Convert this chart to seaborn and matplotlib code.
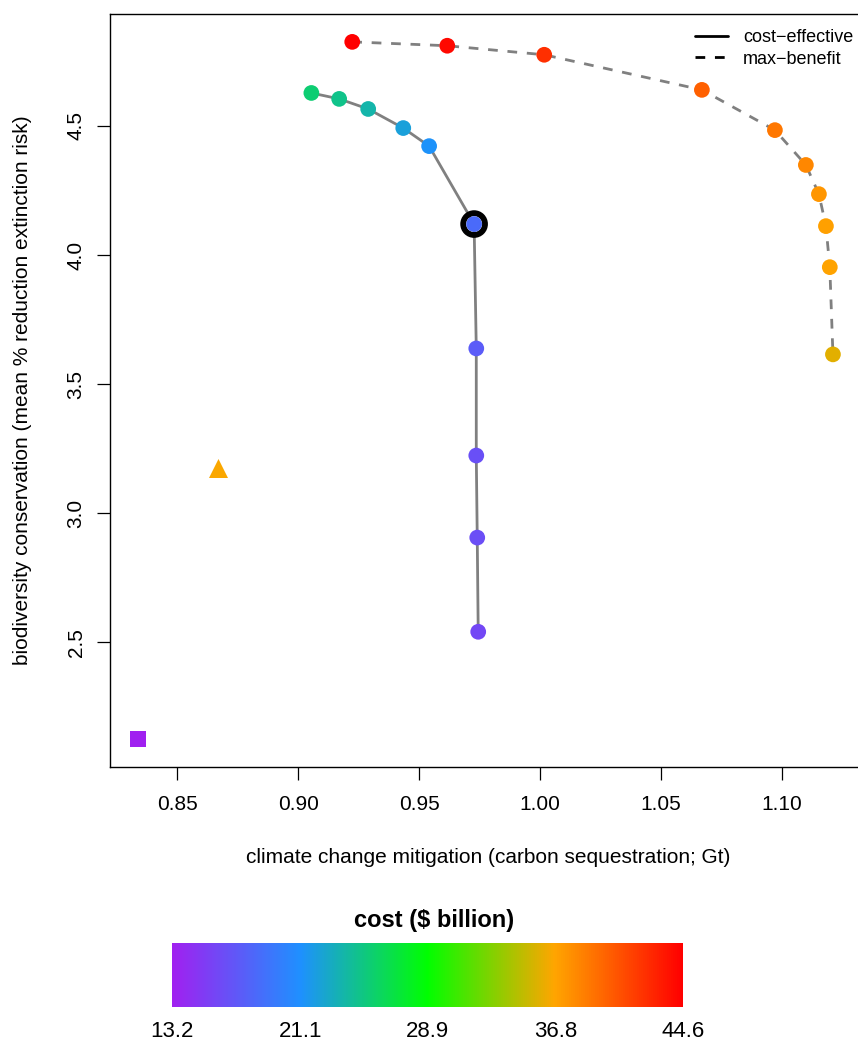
import numpy as np
import pandas as pd
import matplotlib
matplotlib.use("Agg")
import matplotlib.pyplot as plt
import seaborn as sns
from matplotlib.colors import LinearSegmentedColormap, Normalize
from matplotlib.lines import Line2D

# cost-effective frontier
ce_carbon = [0.9054, 0.9169, 0.9289, 0.9434, 0.9541, 0.9727, 0.9736, 0.9736, 0.9740, 0.9744]
ce_biodiv = [4.628, 4.605, 4.566, 4.492, 4.422, 4.120, 3.638, 3.223, 2.905, 2.540]
ce_cost = [25.4, 24.7, 23.7, 22.2, 21.2, 18.4, 17.4, 16.6, 16.4, 16.0]

# max-benefit frontier
mb_carbon = [0.9223, 0.9616, 1.0017, 1.0669, 1.0971, 1.1099, 1.1153, 1.1182, 1.1198, 1.1211]
mb_biodiv = [4.826, 4.811, 4.776, 4.640, 4.484, 4.349, 4.236, 4.112, 3.953, 3.615]
mb_cost = [44.6, 44.2, 42.3, 40.0, 38.9, 38.1, 37.4, 36.9, 36.8, 35.8]

# single scenarios
tri_carbon, tri_biodiv, tri_cost = [0.8669], [3.176], [36.6]
sq_carbon, sq_biodiv, sq_cost = [0.8335], [2.124], [13.2]

# highlighted solution (index into cost-effective)
hl_idx = 5

cost_ticks = [13.2, 21.1, 28.9, 36.8, 44.6]
cost_min, cost_max = 13.2, 44.6

cmap = LinearSegmentedColormap.from_list(
    "cost", list(zip([0, 0.25, 0.5, 0.75, 1.0],
                     ["#A020F0", "#1E90FF", "#00FF00", "#FFA500", "#FF0000"])))

ce = pd.DataFrame({"carbon": ce_carbon, "biodiv": ce_biodiv, "cost": ce_cost})
mb = pd.DataFrame({"carbon": mb_carbon, "biodiv": mb_biodiv, "cost": mb_cost})

sns.set_style("white")
plt.rcParams["font.family"] = ["Liberation Sans", "DejaVu Sans"]
plt.rcParams.update({"text.color": "black", "axes.labelcolor": "black",
                     "xtick.color": "black", "ytick.color": "black"})

W, H = 858, 1043
fig = plt.figure(figsize=(W / 100, H / 100), dpi=100)
ax = fig.add_axes([109.7 / W, 1 - 767 / H, (866 - 109.7) / W, 753 / H])

# lines
sns.lineplot(data=ce, x="carbon", y="biodiv", sort=False, color="#808080",
             lw=2.0, ax=ax, estimator=None)
sns.lineplot(data=mb, x="carbon", y="biodiv", sort=False, color="#808080",
             lw=2.0, ax=ax, estimator=None, dashes=False, linestyle=(0, (3.5, 3.5)))

# highlighted ring
ax.scatter(ce_carbon[hl_idx], ce_biodiv[hl_idx], s=246, facecolor="none",
           edgecolor="black", linewidth=4.2, zorder=3)

# points
norm = (cost_min, cost_max)
sns.scatterplot(data=ce, x="carbon", y="biodiv", hue="cost", palette=cmap,
                hue_norm=norm, s=128, linewidth=0, legend=False, ax=ax, zorder=4)
sns.scatterplot(data=mb, x="carbon", y="biodiv", hue="cost", palette=cmap,
                hue_norm=norm, s=128, linewidth=0, legend=False, ax=ax, zorder=4)
ax.scatter(tri_carbon, tri_biodiv, marker="^", s=187, linewidth=0,
           c=tri_cost, cmap=cmap, vmin=cost_min, vmax=cost_max, zorder=4)
ax.scatter(sq_carbon, sq_biodiv, marker="s", s=117, linewidth=0,
           c=sq_cost, cmap=cmap, vmin=cost_min, vmax=cost_max, zorder=4)

ax.set_xlim(0.8220, 0.85 + (866 - 179.7) / 2410)
ax.set_ylim(2.016, 4.934)
ax.set_xticks([0.85, 0.90, 0.95, 1.00, 1.05, 1.10])
ax.set_xticklabels(["0.85", "0.90", "0.95", "1.00", "1.05", "1.10"])
ax.set_yticks([2.5, 3.0, 3.5, 4.0, 4.5])
ax.set_yticklabels(["2.5", "3.0", "3.5", "4.0", "4.5"], rotation=90, va="center")
ax.tick_params(axis="both", which="major", direction="out", length=9.4,
               width=0.9, color="black", labelsize=15, bottom=True, left=True)
ax.tick_params(axis="x", pad=11)
ax.tick_params(axis="y", pad=8)
for sp in ax.spines.values():
    sp.set_color("black")
    sp.set_linewidth(1.0)
ax.set_xlabel("climate change mitigation (carbon sequestration; Gt)", fontsize=15,
              labelpad=24)
ax.set_ylabel("biodiversity conservation (mean % reduction extinction risk)",
              fontsize=15, labelpad=25)

handles = [Line2D([], [], color="black", lw=2.0, linestyle="-"),
           Line2D([], [], color="black", lw=2.0, linestyle=(0, (3.5, 3.5)))]
fig.legend(handles, ["cost\u2212effective", "max\u2212benefit"], loc="upper left",
           bbox_to_anchor=(695 / W, 1 - 29 / H), frameon=False, fontsize=13,
           handlelength=1.8, handletextpad=0.85, labelspacing=0.25,
           borderpad=0, borderaxespad=0)

# colour bar
cax = fig.add_axes([172 / W, 1 - 1007 / H, 511 / W, 64 / H])
sm = plt.cm.ScalarMappable(norm=Normalize(cost_min, cost_max), cmap=cmap)
cb = fig.colorbar(sm, cax=cax, orientation="horizontal", ticks=cost_ticks)
cb.outline.set_visible(False)
cb.ax.set_xticklabels([f"{v:.1f}" for v in cost_ticks])
cb.ax.tick_params(length=0, labelsize=16, pad=10)
fig.text(434 / W, 1 - 920 / H, "cost ($ billion)", ha="center", va="center",
         fontsize=17, fontweight="bold")

fig.savefig("out.png", dpi=100)
